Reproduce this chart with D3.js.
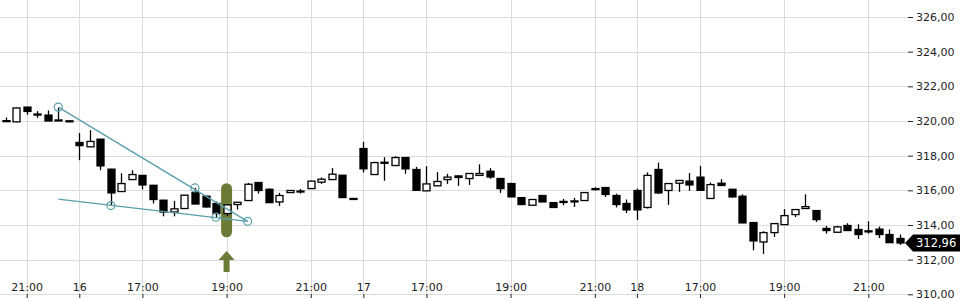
<!DOCTYPE html>
<html>
<head>
<meta charset="utf-8">
<script src="https://cdn.jsdelivr.net/npm/d3@7.9.0/dist/d3.min.js"></script>
<style>
  body { margin: 0; background: #fff; }
  svg { display: block; font-family: "DejaVu Sans", sans-serif; }
</style>
</head>
<body>
<svg id="chart" width="960" height="300"></svg>
<script>
// 15 min candles, index based x
const open = [320.02,319.95,320.80,320.40,320.34,320.06,320.01,318.76,318.51,318.95,317.22,315.93,316.62,316.86,316.29,315.43,314.75,314.95,315.87,315.66,315.24,314.66,315.18,315.41,316.45,316.06,315.33,315.87,315.96,316.10,316.47,316.62,316.87,315.53,318.41,316.91,317.62,317.43,317.89,317.20,315.97,316.26,316.62,316.83,316.68,316.86,317.10,316.68,316.39,315.58,315.14,315.70,315.29,315.36,315.33,315.41,316.10,316.16,315.70,315.24,315.99,315.01,317.20,315.99,316.41,316.53,316.76,315.53,316.41,316.06,315.66,314.14,313.02,313.56,314.02,314.60,314.95,314.83,313.80,313.58,313.97,313.74,313.66,313.76,313.45,313.22];
const high = [320.20,320.78,320.82,320.57,320.61,320.76,320.01,319.30,319.47,318.97,317.24,316.98,317.16,316.88,316.31,315.45,315.39,315.74,316.14,315.70,315.35,315.18,315.33,316.43,316.47,316.10,315.85,316.00,316.08,316.55,316.74,317.28,316.89,315.53,318.80,317.65,317.91,317.97,317.91,317.35,317.39,317.05,316.95,316.86,316.99,317.50,317.28,316.70,316.43,315.60,315.47,315.72,315.31,315.50,315.56,315.89,316.18,316.18,315.81,315.47,316.10,317.03,317.60,316.41,316.59,316.99,317.41,316.45,316.64,316.08,315.77,314.16,313.64,314.10,314.91,314.91,315.77,314.85,313.94,313.95,314.10,314.04,314.21,313.91,313.74,313.45];
const low = [319.98,319.93,320.36,320.18,320.00,320.00,320.00,317.74,318.51,317.16,315.10,315.93,316.62,316.05,315.24,314.50,314.50,314.93,315.21,315.00,314.43,314.52,314.89,315.40,315.81,315.29,315.10,315.85,315.81,316.08,316.37,316.60,315.58,315.53,317.03,316.89,316.55,317.41,316.95,316.00,315.95,316.24,316.37,316.26,316.31,316.84,316.66,315.85,315.62,315.16,315.12,315.33,315.00,315.14,315.04,315.40,315.99,315.62,315.01,314.69,314.29,314.95,315.79,315.16,315.91,315.97,316.00,315.51,316.24,315.58,314.10,312.54,312.33,313.31,314.00,314.46,314.93,314.17,313.50,313.56,313.66,313.20,313.50,313.25,312.96,312.85];
const close = [319.98,320.75,320.55,320.37,320.00,320.02,320.00,318.58,318.82,317.41,315.85,316.39,316.91,316.31,315.47,314.75,314.93,315.72,315.21,315.04,314.66,315.16,315.31,316.35,315.99,315.29,315.70,315.99,315.93,316.53,316.64,316.93,315.58,315.53,317.24,317.60,317.56,317.89,317.24,316.00,316.37,316.51,316.76,316.74,316.97,316.97,316.77,316.10,315.62,315.18,315.47,315.33,315.01,315.30,315.39,315.87,316.05,315.76,315.18,314.87,314.87,316.86,315.85,316.39,316.57,316.31,316.00,316.33,316.28,315.62,314.12,313.08,313.56,314.08,314.54,314.89,315.06,314.31,313.68,313.89,313.68,313.45,313.62,313.45,312.98,312.96];

const tickIndex = [2, 7, 13, 21, 29, 34, 40, 48, 56, 60, 66, 74, 82];
const tickLabels = ["21:00","16","17:00","19:00","21:00","17","17:00","19:00","21:00","18","17:00","19:00","21:00"];
const priceTicks = [310, 312, 314, 316, 318, 320, 322, 324, 326];

// trend lines: [index, price] pairs, circles marked
const upperLine = [[5, 320.80], [23, 314.21]];
const upperMarks = [[5, 320.80], [18, 316.14], [23, 314.21]];
const lowerLine = [[5, 315.49], [23, 314.21]];
const lowerMarks = [[10, 315.12], [20, 314.45]];

const signalIndex = 21;
const signalRange = [313.29, 316.41];
const lastPrice = 312.96;

const svg = d3.select("#chart");
const x = d3.scaleLinear().domain([0, 85]).range([5.66, 5.66 + 85 * 10.52]);
const y = d3.scaleLinear().domain([310, 326]).range([294.3, 17]);
const fmt = v => d3.format(".2f")(v).replace(".", ",");
const plotRight = 908;

// grid
svg.append("g").selectAll("line").data(priceTicks).join("line")
  .attr("x1", 0).attr("x2", plotRight)
  .attr("y1", d => Math.round(y(d)) + 0.5).attr("y2", d => Math.round(y(d)) + 0.5)
  .attr("stroke", "#dcdcdc");
svg.append("g").selectAll("line").data(tickIndex).join("line")
  .attr("x1", d => Math.round(x(d)) + 0.5).attr("x2", d => Math.round(x(d)) + 0.5)
  .attr("y1", 0).attr("y2", 294)
  .attr("stroke", "#dcdcdc");

// y axis labels on the right
const yAxis = svg.append("g").attr("transform", `translate(${plotRight},0)`)
  .call(d3.axisRight(y).tickValues(priceTicks).tickFormat(fmt).tickSize(5).tickPadding(3));
yAxis.select(".domain").remove();
yAxis.selectAll("text").attr("font-size", 11).attr("fill", "#222").attr("font-family", "DejaVu Sans");
yAxis.selectAll(".tick line").attr("stroke", "#222");

// x axis
const xAxis = svg.append("g").attr("transform", "translate(0,294)")
  .call(d3.axisBottom(x).tickValues(tickIndex).tickFormat((d, i) => tickLabels[i]).tickSize(4));
xAxis.select(".domain").remove();
xAxis.selectAll(".tick line").attr("stroke", "#222");
xAxis.selectAll("text").attr("y", -11).attr("font-size", 11).attr("fill", "#222")
  .attr("font-family", "DejaVu Sans");

// signal marker
svg.append("rect")
  .attr("x", x(signalIndex) - 5.5).attr("width", 11)
  .attr("y", y(signalRange[1])).attr("height", y(signalRange[0]) - y(signalRange[1]))
  .attr("rx", 5.5).attr("fill", "#6a7c38");
const ax = x(signalIndex), ay = y(312.5);
svg.append("path")
  .attr("d", `M${ax},${ay} L${ax + 8},${ay + 9} L${ax + 3},${ay + 9} L${ax + 3},${ay + 21} L${ax - 3},${ay + 21} L${ax - 3},${ay + 9} L${ax - 8},${ay + 9} Z`)
  .attr("fill", "#6a7c38");

// candles
const candles = svg.append("g").selectAll("g").data(d3.range(open.length)).join("g");
candles.append("line")
  .attr("x1", i => Math.round(x(i)) + 0.5).attr("x2", i => Math.round(x(i)) + 0.5)
  .attr("y1", i => y(high[i])).attr("y2", i => y(low[i]))
  .attr("stroke", "#000").attr("stroke-width", 1.3);
candles.append("rect")
  .attr("x", i => Math.round(x(i)) - 3)
  .attr("width", 7)
  .attr("y", i => y(Math.max(open[i], close[i])))
  .attr("height", i => Math.max(1, Math.abs(y(open[i]) - y(close[i]))))
  .attr("fill", i => close[i] > open[i] ? "#fff" : "#000")
  .attr("stroke", "#000").attr("stroke-width", 1.3);

// trend lines
const line = d3.line().x(d => x(d[0])).y(d => y(d[1]));
const teal = "#5a9fa9";
svg.append("path").attr("d", line(upperLine)).attr("fill", "none").attr("stroke", teal).attr("stroke-width", 1.3);
svg.append("path").attr("d", line(lowerLine)).attr("fill", "none").attr("stroke", teal).attr("stroke-width", 1.3);
svg.append("g").selectAll("circle").data(upperMarks.concat(lowerMarks)).join("circle")
  .attr("cx", d => x(d[0])).attr("cy", d => y(d[1])).attr("r", 4)
  .attr("fill", "none").attr("stroke", teal).attr("stroke-width", 1.2);

// last price tag
const ly = y(lastPrice);
svg.append("path")
  .attr("d", `M905,${ly} L913,${ly - 8.5} L960,${ly - 8.5} L960,${ly + 8.5} L913,${ly + 8.5} Z`)
  .attr("fill", "#000");
svg.append("text").attr("x", 916).attr("y", ly + 4).attr("font-size", 11.5)
  .attr("fill", "#fff").text(fmt(lastPrice));
</script>
</body>
</html>
